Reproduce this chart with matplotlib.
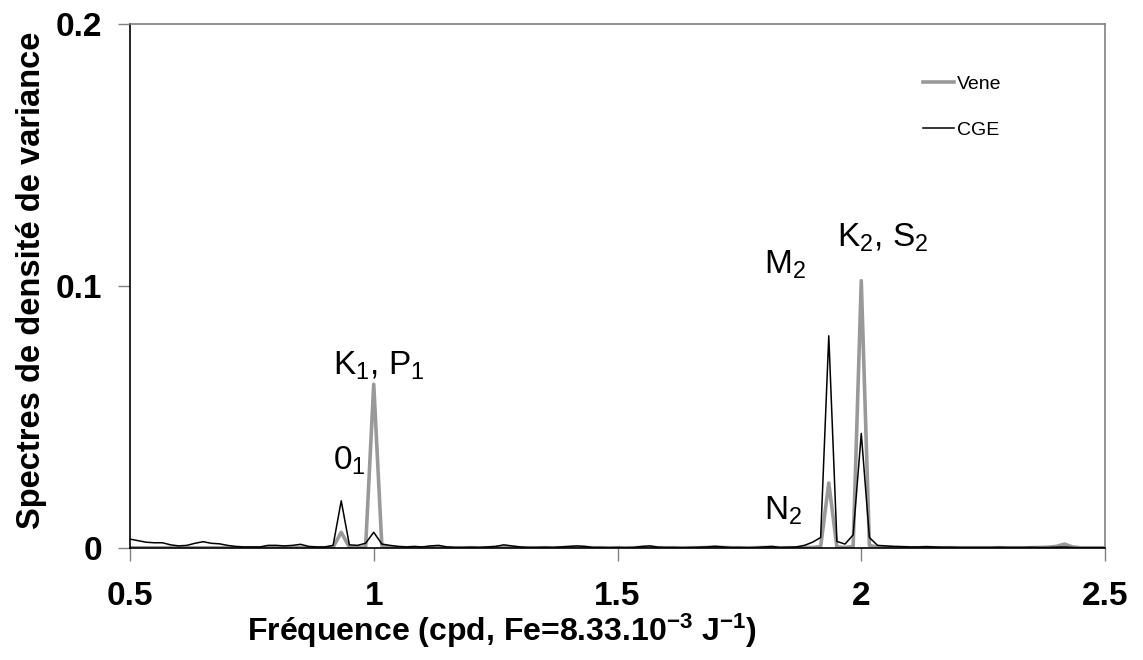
import numpy as np
import matplotlib
matplotlib.use('Agg')
import matplotlib.pyplot as plt

plt.rcParams['font.family'] = ['Liberation Sans', 'DejaVu Sans']
plt.rcParams['mathtext.fontset'] = 'custom'
plt.rcParams['mathtext.rm'] = 'Liberation Sans'
plt.rcParams['mathtext.bf'] = 'Liberation Sans:bold'
plt.rcParams['mathtext.it'] = 'Liberation Sans:italic'
plt.rcParams['mathtext.default'] = 'regular'

#---------------
# DATA
#---------------
# frequency grid (cpd), 0.5 -> 2.5 every 1/60
freq = 0.5 + np.arange(121) / 60.0

# CGE spectrum (black)
cge = [0.0034, 0.0028, 0.0022, 0.0020, 0.0020, 0.0012, 0.0008, 0.0010, 0.0018, 0.0024,   # 0.50 - 0.65
       0.0018, 0.0016, 0.0010, 0.0006, 0.0004, 0.0004, 0.0004, 0.0010, 0.0010, 0.0008,   # 0.667 - 0.817
       0.0010, 0.0014, 0.0006, 0.0004, 0.0004, 0.0010, 0.0180, 0.0012, 0.0010, 0.0018,   # 0.833 - 0.983
       0.0060, 0.0015, 0.0010, 0.0006, 0.0004, 0.0006, 0.0004, 0.0008, 0.0010, 0.0004,   # 1.0 - 1.15
       0.0002, 0.0002, 0.0003, 0.0002, 0.0004, 0.0006, 0.0012, 0.0008, 0.0004, 0.0002,   # 1.167 - 1.317
       0.0002, 0.0003, 0.0002, 0.0004, 0.0006, 0.0008, 0.0006, 0.0002, 0.0002, 0.0001,   # 1.333 - 1.483
       0.0002, 0.0001, 0.0002, 0.0006, 0.0008, 0.0003, 0.0002, 0.0002, 0.0001, 0.0002,   # 1.5 - 1.65
       0.0003, 0.0004, 0.0006, 0.0004, 0.0002, 0.0002, 0.0001, 0.0002, 0.0004, 0.0006,   # 1.667 - 1.817
       0.0002, 0.0003, 0.0004, 0.0010, 0.0022, 0.0040, 0.0810, 0.0025, 0.0015, 0.0050,   # 1.833 - 1.983
       0.0437, 0.0040, 0.0010, 0.0008, 0.0006, 0.0005, 0.0004, 0.0004, 0.0005, 0.0004,   # 2.0 - 2.15
       0.0003, 0.0003, 0.0002, 0.0002, 0.0002, 0.0002, 0.0002, 0.0003, 0.0002, 0.0002,   # 2.167 - 2.317
       0.0002, 0.0003, 0.0002, 0.0002, 0.0003, 0.0004, 0.0002, 0.0001, 0.0001, 0.0001,   # 2.333 - 2.483
       0.0001]                                                                            # 2.5

# Vene spectrum (grey)
vene = [0.0001, 0.0001, 0.0001, 0.0001, 0.0001, 0.0001, 0.0001, 0.0001, 0.0001, 0.0001,
        0.0001, 0.0001, 0.0001, 0.0001, 0.0001, 0.0001, 0.0001, 0.0002, 0.0002, 0.0001,
        0.0001, 0.0002, 0.0001, 0.0001, 0.0001, 0.0003, 0.0060, 0.0003, 0.0002, 0.0004,
        0.0625, 0.0008, 0.0002, 0.0002, 0.0001, 0.0001, 0.0001, 0.0002, 0.0002, 0.0001,
        0.0001, 0.0001, 0.0001, 0.0001, 0.0001, 0.0002, 0.0003, 0.0002, 0.0001, 0.0001,
        0.0001, 0.0001, 0.0001, 0.0001, 0.0002, 0.0002, 0.0002, 0.0001, 0.0001, 0.0001,
        0.0001, 0.0001, 0.0001, 0.0002, 0.0002, 0.0001, 0.0001, 0.0001, 0.0001, 0.0001,
        0.0001, 0.0002, 0.0004, 0.0002, 0.0001, 0.0001, 0.0001, 0.0001, 0.0002, 0.0002,
        0.0001, 0.0001, 0.0001, 0.0002, 0.0002, 0.0006, 0.0248, 0.0004, 0.0002, 0.0006,
        0.1020, 0.0010, 0.0003, 0.0002, 0.0002, 0.0002, 0.0001, 0.0001, 0.0002, 0.0001,
        0.0001, 0.0001, 0.0001, 0.0001, 0.0001, 0.0001, 0.0001, 0.0001, 0.0001, 0.0001,
        0.0001, 0.0001, 0.0002, 0.0003, 0.0006, 0.0015, 0.0004, 0.0001, 0.0001, 0.0001,
        0.0001]

# tidal constituent labels: (text, x left, y baseline)
peak_labels = [(r'K$_1$, P$_1$', 0.917, 0.0660),
               (r'0$_1$',        0.916, 0.0298),
               (r'N$_2$',        1.801, 0.0107),
               (r'M$_2$',        1.801, 0.1046),
               (r'K$_2$, S$_2$', 1.950, 0.1149)]

xticks = [0.5, 1, 1.5, 2, 2.5]
xticklabels = ['0.5', '1', '1.5', '2', '2.5']
yticks = [0, 0.1, 0.2]
yticklabels = ['0', '0.1', '0.2']

#---------------
# PLOT
#---------------
fig = plt.figure(figsize=(11.43, 6.6), dpi=100)
ax = fig.add_axes([0.1137, 0.1697, 0.8531, 0.7939])

ax.plot(freq, vene, color='#999999', lw=2.6, label='Vene')
ax.plot(freq, cge, color='black', lw=1.1, label='CGE')

ax.set_xlim(0.5, 2.5)
ax.set_ylim(0, 0.2)

ax.set_xticks(xticks)
ax.set_xticklabels(xticklabels, fontsize=24, fontweight='bold')
ax.set_yticks(yticks)
ax.set_yticklabels(yticklabels, fontsize=24, fontweight='bold')
ax.tick_params(axis='x', direction='out', length=9, width=1, color='#808080', pad=14.5)
ax.tick_params(axis='y', direction='out', length=9, width=1, color='#808080', pad=11)

# frame: black left/bottom, grey top/right
ax.spines['left'].set_color('black')
ax.spines['bottom'].set_color('black')
ax.spines['top'].set_color('#808080')
ax.spines['right'].set_color('#808080')
for s in ax.spines.values():
    s.set_linewidth(1.2)

ax.set_xlabel(r'Fréquence (cpd, Fe=8.33.10$^{\mathbf{-3}}$ J$^{\mathbf{-1}}$)',
              fontsize=23, fontweight='bold')
ax.xaxis.set_label_coords(0.3815, -0.122)
ax.set_ylabel('Spectres de densité de variance', fontsize=23.5, fontweight='bold')
ax.yaxis.set_label_coords(-0.085, 0.511)

for txt, x, y in peak_labels:
    ax.text(x, y, txt, fontsize=24, ha='left', va='baseline')

leg = ax.legend(loc='upper left', bbox_to_anchor=(0.813, 0.902), frameon=False,
                fontsize=14, handlelength=1.6, handletextpad=0.15,
                labelspacing=1.47, borderpad=0, borderaxespad=0)

plt.savefig('out.png', dpi=100)
